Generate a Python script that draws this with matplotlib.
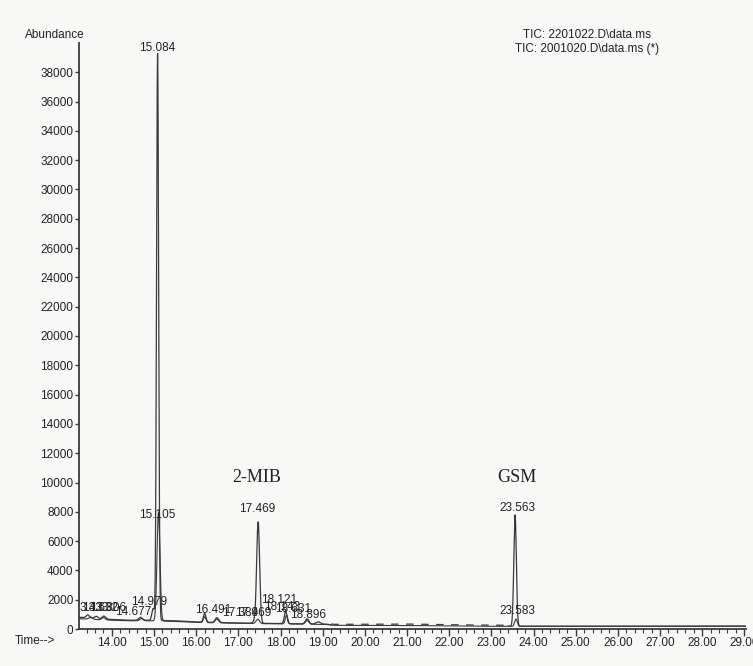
import numpy as np
import matplotlib
matplotlib.use("Agg")
import matplotlib.pyplot as plt
from matplotlib.ticker import MultipleLocator, FixedLocator

plt.rcParams['font.family'] = ['Liberation Sans', 'DejaVu Sans']

# ---- data ----
# baseline anchor points (time in min, abundance)
base_time   = [13.22, 13.4, 13.6, 14.0, 14.4, 14.9, 15.5, 16.0, 17.0, 18.0, 19.1, 19.25, 20.0, 21.0, 22.0, 23.0, 24.0, 26.0, 29.04]
base_main   = [800, 760, 720, 650, 600, 600, 560, 480, 410, 370, 330, 260, 260, 280, 230, 200, 190, 190, 200]
base_second = [700, 680, 650, 600, 560, 560, 520, 450, 390, 350, 310, 250, 240, 240, 210, 180, 180, 180, 190]

# peak tables: retention time, height above baseline, width (sigma, min)
main_rt     = [13.43, 13.63, 13.81, 14.68, 14.979, 15.084, 16.20, 16.491, 17.389, 17.469, 18.121, 18.631, 18.896, 23.563]
main_height = [200, 150, 200, 200, 800, 38700, 600, 330, 150, 6900, 900, 350, 150, 7600]
main_width  = [0.04, 0.04, 0.04, 0.04, 0.03, 0.025, 0.03, 0.04, 0.04, 0.035, 0.03, 0.04, 0.05, 0.03]

second_rt     = [13.50, 13.80, 14.70, 15.105, 16.20, 16.49, 17.46, 18.143, 18.63, 23.583]
second_height = [150, 150, 150, 7400, 400, 250, 300, 600, 250, 500]
second_width  = [0.04, 0.04, 0.04, 0.035, 0.03, 0.04, 0.04, 0.03, 0.04, 0.03]

# peak labels: text, x (min), y (abundance), horizontal alignment
label_text = ["15.084", "15.105", "14.979", "14.677", "3.433", "13.632", "13.806",
              "16.491", "17.389", "17.469", "18.121", "18.143", "18.631", "18.896",
              "17.469", "23.563", "23.583"]
label_x = [15.084, 15.08, 14.88, 14.50, 13.23, 13.72, 13.92,
           16.40, 17.04, 17.34, 17.97, 18.03, 18.30, 18.66,
           17.44, 23.62, 23.62]
label_y = [39650, 7780, 1840, 1160, 1430, 1430, 1430,
           1300, 1100, 1100, 1980, 1500, 1360, 950,
           8190, 8260, 1230]
label_ha = ["center", "center", "center", "center", "left", "center", "center",
            "center", "center", "center", "center", "center", "center", "center",
            "center", "center", "center"]

compound_names = ["2-MIB", "GSM"]
compound_x = [17.43, 23.61]
compound_y = [10370, 10370]

x_ticks = [14, 15, 16, 17, 18, 19, 20, 21, 22, 23, 24, 25, 26, 27, 28, 29]
y_ticks = list(range(0, 40000, 2000))
legend_lines = ["TIC: 2201022.D\\data.ms", "TIC: 2001020.D\\data.ms (*)"]

# ---- build traces ----
t = np.linspace(13.22, 29.04, 12000)

def trace(base, rts, hs, ws):
    y = np.interp(t, base_time, base)
    for r, h, w in zip(rts, hs, ws):
        y = y + h * np.exp(-0.5 * ((t - r) / w) ** 2)
    return y

y_main = trace(base_main, main_rt, main_height, main_width)
y_second = trace(base_second, second_rt, second_height, second_width)

bg = '#f8f8f7'
ink = '#3a3a3a'

fig = plt.figure(figsize=(7.53, 6.66), dpi=100, facecolor=bg)
ax = fig.add_axes([79/753, 37/666, 667/753, 586/666], facecolor=bg)

ax.plot(t, y_second, color=ink, lw=0.8)
m1 = t < 19.2
m2 = (t >= 19.2) & (t <= 23.4)
m3 = t > 23.4
ax.plot(t[m1], y_main[m1], color=ink, lw=0.9)
ax.plot(t[m2], y_main[m2] + 60, color=ink, lw=0.9, dashes=(6, 6))
ax.plot(t[m3], y_main[m3], color=ink, lw=0.9)

ax.set_xlim(13.22, 29.04)
ax.set_ylim(0, 40000)
for s in ['top', 'right']:
    ax.spines[s].set_visible(False)
for s in ['left', 'bottom']:
    ax.spines[s].set_color(ink)
    ax.spines[s].set_linewidth(1.3)

ax.xaxis.set_major_locator(FixedLocator(x_ticks))
ax.xaxis.set_minor_locator(MultipleLocator(0.2))
ax.set_xticklabels([f"{v:.2f}" for v in x_ticks])
ax.yaxis.set_major_locator(FixedLocator(y_ticks))
ax.set_yticklabels([str(v) for v in y_ticks])

ax.tick_params(axis='x', which='major', length=5, width=1, color=ink, pad=1,
               labelsize=8.5, labelcolor='#222222')
ax.tick_params(axis='x', which='minor', length=3, width=0.8, color=ink)
ax.tick_params(axis='y', which='major', length=3, width=1, color=ink, pad=1,
               labelsize=8.5, labelcolor='#222222')

for s, x, y, ha in zip(label_text, label_x, label_y, label_ha):
    ax.text(x, y, s, ha=ha, va='center', fontsize=8.5, color='#222222', clip_on=False)

for s, x, y in zip(compound_names, compound_x, compound_y):
    ax.text(x, y, s, ha='center', va='center', fontsize=13, color='#222222',
            family=['Liberation Serif', 'DejaVu Serif'])

fig.text(55/753, 1 - 35/666, "Abundance", ha='center', va='center', fontsize=8.5, color='#222222')
fig.text(35/753, 1 - 641/666, "Time-->", ha='center', va='center', fontsize=8.5, color='#222222')
fig.text(587/753, 1 - 35/666, legend_lines[0], ha='center', va='center', fontsize=8.5, color='#222222')
fig.text(587/753, 1 - 49/666, legend_lines[1], ha='center', va='center', fontsize=8.5, color='#222222')

fig.savefig("out.png", dpi=100, facecolor=bg)
